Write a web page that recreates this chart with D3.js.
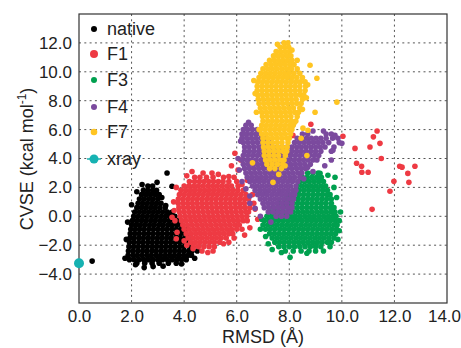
<!DOCTYPE html>
<html>
<head>
<meta charset="utf-8">
<script src="https://cdn.jsdelivr.net/npm/d3@7"></script>
<style>
  body { margin: 0; background: #fff; }
  text { font-family: "Liberation Sans", Arial, sans-serif; }
</style>
</head>
<body>
<svg id="chart"></svg>
<script>
const nativeRows = [
  [2.1, 2.62, 2.8],
  [1.8, 2.45, 2.62, 2.8, 2.95],
  [1.5, 2.38, 2.55, 2.72, 2.9, 3.05],
  [1.2, 2.3, 2.47, 2.65, 2.82, 3.0],
  [0.9, 2.25, 2.42, 2.6, 2.78, 2.95, 3.12],
  [0.6, 2.2, 2.38, 2.55, 2.73, 2.9, 3.08, 3.28],
  [0.3, 2.12, 2.3, 2.48, 2.65, 2.83, 3.0, 3.18, 3.36, 3.55],
  [0.0, 2.08, 2.25, 2.42, 2.6, 2.78, 2.95, 3.13, 3.3, 3.48, 3.65],
  [-0.3, 2.03, 2.2, 2.38, 2.55, 2.73, 2.9, 3.08, 3.25, 3.43, 3.6, 3.78],
  [-0.6, 2.0, 2.16, 2.33, 2.5, 2.68, 2.85, 3.03, 3.2, 3.38, 3.55, 3.73, 3.9],
  [-0.9, 1.97, 2.14, 2.31, 2.48, 2.66, 2.83, 3.0, 3.18, 3.35, 3.53, 3.7, 3.88, 4.02],
  [-1.2, 1.95, 2.12, 2.29, 2.47, 2.64, 2.82, 3.0, 3.17, 3.35, 3.52, 3.7, 3.87, 4.05],
  [-1.5, 1.94, 2.1, 2.28, 2.45, 2.63, 2.8, 2.98, 3.15, 3.33, 3.5, 3.68, 3.85, 4.03, 4.15],
  [-1.8, 1.92, 2.09, 2.27, 2.44, 2.62, 2.79, 2.97, 3.14, 3.32, 3.49, 3.67, 3.84, 4.02, 4.18],
  [-2.1, 1.9, 2.08, 2.25, 2.43, 2.6, 2.78, 2.95, 3.13, 3.3, 3.48, 3.65, 3.83, 4.0, 4.2],
  [-2.4, 1.88, 2.06, 2.24, 2.42, 2.59, 2.77, 2.94, 3.12, 3.29, 3.47, 3.64, 3.82, 3.99, 4.17, 4.3],
  [-2.7, 1.87, 2.05, 2.22, 2.4, 2.58, 2.75, 2.93, 3.1, 3.28, 3.45, 3.63, 3.8, 3.98, 4.15, 4.28],
  [-3.0, 1.92, 2.1, 2.28, 2.46, 2.64, 2.82, 3.0, 3.18, 3.36, 3.54, 3.72, 3.9, 4.08],
  [-3.25, 2.2, 2.5, 2.78, 3.05, 3.4, 3.7]
];
const nativeExtra = [
  [2.48, -3.55], [2.82, -3.48], [3.35, 3.0], [2.97, 2.35], [3.54, 2.08], [0.5, -3.1], [3.3, 0.75],
  [1.75, -2.9], [1.8, -1.6], [1.85, -0.4], [2.0, 0.8], [2.2, 1.7], [2.4, 2.2], [3.15, 1.3],
  [3.4, 0.1], [4.4, -2.9], [4.5, -2.4], [3.9, -3.3], [3.2, -3.45], [2.15, -3.35]
];

const f1Rows = [
  [3.0, 4.72, 5.06],
  [2.7, 4.4, 4.6, 4.85, 5.1, 5.5, 5.9],
  [2.4, 4.2, 4.4, 4.58, 4.76, 4.94, 5.12, 5.3, 5.48, 5.7, 6.0],
  [2.1, 4.0, 4.18, 4.36, 4.54, 4.72, 4.9, 5.08, 5.26, 5.44, 5.62, 5.8, 6.05],
  [1.8, 3.88, 4.06, 4.24, 4.42, 4.6, 4.78, 4.96, 5.14, 5.32, 5.5, 5.68, 5.86, 6.04, 6.25],
  [1.5, 3.82, 4.0, 4.18, 4.36, 4.54, 4.72, 4.9, 5.08, 5.26, 5.44, 5.62, 5.8, 5.98, 6.16, 6.35],
  [1.2, 3.78, 3.96, 4.14, 4.32, 4.5, 4.68, 4.86, 5.04, 5.22, 5.4, 5.58, 5.76, 5.94, 6.12, 6.3, 6.45],
  [0.9, 3.77, 3.95, 4.13, 4.31, 4.49, 4.67, 4.85, 5.03, 5.21, 5.39, 5.57, 5.75, 5.93, 6.11, 6.29, 6.5],
  [0.6, 3.8, 3.98, 4.16, 4.34, 4.52, 4.7, 4.88, 5.06, 5.24, 5.42, 5.6, 5.78, 5.96, 6.14, 6.32, 6.5],
  [0.3, 3.82, 4.0, 4.18, 4.36, 4.54, 4.72, 4.9, 5.08, 5.26, 5.44, 5.62, 5.8, 5.98, 6.16, 6.34, 6.45],
  [0.0, 3.85, 4.03, 4.21, 4.39, 4.57, 4.75, 4.93, 5.11, 5.29, 5.47, 5.65, 5.83, 6.01, 6.19, 6.38],
  [-0.3, 3.9, 4.08, 4.26, 4.44, 4.62, 4.8, 4.98, 5.16, 5.34, 5.52, 5.7, 5.88, 6.06, 6.25],
  [-0.6, 3.95, 4.13, 4.31, 4.49, 4.67, 4.85, 5.03, 5.21, 5.39, 5.57, 5.75, 5.93, 6.1],
  [-0.9, 4.0, 4.18, 4.36, 4.54, 4.72, 4.9, 5.08, 5.26, 5.44, 5.62, 5.8, 6.0],
  [-1.2, 4.08, 4.26, 4.44, 4.62, 4.8, 4.98, 5.16, 5.34, 5.52, 5.7, 5.85],
  [-1.5, 4.15, 4.33, 4.51, 4.69, 4.87, 5.05, 5.23, 5.41, 5.6],
  [-1.8, 4.25, 4.43, 4.61, 4.79, 4.97, 5.15, 5.35],
  [-2.1, 4.35, 4.55, 4.75, 4.95, 5.15],
  [-2.4, 4.68, 5.1]
];
const f1Extra = [
  [3.54, -0.07], [3.65, -0.3], [3.73, -1.1], [3.7, -1.55], [4.34, -2.25], [5.5, -1.9],
  [6.3, -1.3], [6.5, -0.8], [5.93, 4.36], [5.8, 3.5], [6.15, 3.9], [6.05, 3.2], [6.4, 2.5],
  [6.7, 0.5], [6.8, -0.2], [8.82, 6.37], [8.14, 5.6], [10.04, 5.54],
  [3.7, 2.0], [3.6, 1.0], [3.62, 0.4], [4.1, 2.8], [4.3, 3.1], [5.3, 2.9], [5.7, 2.75],
  [6.2, 2.2], [6.6, 1.5], [6.65, 0.9], [6.4, -0.3], [6.2, -0.9], [5.9, -1.5], [5.7, -1.8],
  [4.0, -1.7], [4.1, -2.0], [4.9, -2.5],
  [11.34, 5.9], [11.2, 5.5], [11.45, 5.05], [10.5, 4.7], [11.07, 4.8], [11.5, 4.0],
  [10.56, 3.67], [10.75, 3.46], [11.0, 3.05], [10.76, 3.05], [12.2, 3.46], [12.29, 3.4],
  [12.78, 3.46], [12.51, 2.97], [12.55, 2.35], [11.98, 2.42], [11.83, 1.73], [11.15, 0.48]
];

const f3Rows = [
  [3.0, 8.7, 8.9, 9.1],
  [2.7, 8.5, 8.68, 8.86, 9.04, 9.22],
  [2.4, 8.4, 8.58, 8.76, 8.94, 9.12, 9.3],
  [2.1, 8.3, 8.48, 8.66, 8.84, 9.02, 9.2, 9.38],
  [1.8, 8.2, 8.38, 8.56, 8.74, 8.92, 9.1, 9.28, 9.45],
  [1.5, 8.0, 8.18, 8.36, 8.54, 8.72, 8.9, 9.08, 9.26, 9.44, 9.55],
  [1.2, 7.8, 7.98, 8.16, 8.34, 8.52, 8.7, 8.88, 9.06, 9.24, 9.42, 9.6],
  [0.9, 7.6, 7.78, 7.96, 8.14, 8.32, 8.5, 8.68, 8.86, 9.04, 9.22, 9.4, 9.6],
  [0.6, 7.4, 7.58, 7.76, 7.94, 8.12, 8.3, 8.48, 8.66, 8.84, 9.02, 9.2, 9.38, 9.56, 9.7],
  [0.3, 7.25, 7.43, 7.61, 7.79, 7.97, 8.15, 8.33, 8.51, 8.69, 8.87, 9.05, 9.23, 9.41, 9.59, 9.74],
  [0.0, 7.15, 7.33, 7.51, 7.69, 7.87, 8.05, 8.23, 8.41, 8.59, 8.77, 8.95, 9.13, 9.31, 9.49, 9.67, 9.78],
  [-0.3, 7.05, 7.23, 7.41, 7.59, 7.77, 7.95, 8.13, 8.31, 8.49, 8.67, 8.85, 9.03, 9.21, 9.39, 9.57, 9.75],
  [-0.6, 7.0, 7.18, 7.36, 7.54, 7.72, 7.9, 8.08, 8.26, 8.44, 8.62, 8.8, 8.98, 9.16, 9.34, 9.52, 9.7, 9.82],
  [-0.9, 7.1, 7.28, 7.46, 7.64, 7.82, 8.0, 8.18, 8.36, 8.54, 8.72, 8.9, 9.08, 9.26, 9.44, 9.62, 9.8],
  [-1.2, 7.25, 7.43, 7.61, 7.79, 7.97, 8.15, 8.33, 8.51, 8.69, 8.87, 9.05, 9.23, 9.41, 9.59, 9.76],
  [-1.5, 7.35, 7.53, 7.71, 7.89, 8.07, 8.25, 8.43, 8.61, 8.79, 8.97, 9.15, 9.33, 9.51, 9.7],
  [-1.8, 7.45, 7.63, 7.81, 7.99, 8.17, 8.35, 8.53, 8.71, 8.89, 9.07, 9.25, 9.45, 9.6],
  [-2.1, 7.6, 7.8, 8.0, 8.2, 8.4, 8.6, 8.8, 9.0, 9.2],
  [-2.4, 7.85, 8.15, 8.45, 8.75, 9.0]
];
const f3Extra = [
  [8.03, -2.84], [8.67, -2.56], [7.35, -2.3], [9.85, -1.6], [9.9, -0.3], [9.74, 2.7], [9.47, 2.84], [9.17, 2.98],
  [6.95, -0.2], [6.9, -0.9], [7.1, -1.4], [7.2, -1.9], [9.9, -1.0], [9.95, 0.3], [9.8, 1.3],
  [9.7, 2.0], [9.55, -2.1], [7.7, -2.5], [9.3, -2.4]
];

const f4Rows = [
  [6.3, 6.35, 6.55],
  [6.0, 6.25, 6.42, 6.6, 6.78],
  [5.7, 6.2, 6.38, 6.56, 6.74, 6.9, 8.5, 8.7, 9.4, 9.6],
  [5.4, 6.2, 6.38, 6.56, 6.74, 6.92, 7.1, 8.3, 8.48, 8.66, 8.84, 9.02, 9.2, 9.4, 9.65, 9.85],
  [5.1, 6.25, 6.43, 6.61, 6.79, 6.97, 7.15, 7.33, 8.2, 8.38, 8.56, 8.74, 8.92, 9.1, 9.28, 9.5, 9.9],
  [4.8, 6.3, 6.48, 6.66, 6.84, 7.02, 7.2, 7.38, 7.56, 7.74, 7.92, 8.1, 8.28, 8.46, 8.64, 8.82, 9.0, 9.18, 9.36, 9.7],
  [4.5, 6.3, 6.48, 6.66, 6.84, 7.02, 7.2, 7.38, 7.56, 7.74, 7.92, 8.1, 8.28, 8.46, 8.64, 8.82, 9.0, 9.2, 9.6],
  [4.2, 6.25, 6.43, 6.61, 6.79, 6.97, 7.15, 7.33, 7.51, 7.69, 7.87, 8.05, 8.23, 8.41, 8.59, 8.77, 8.95, 9.12],
  [3.9, 6.2, 6.38, 6.56, 6.74, 6.92, 7.1, 7.28, 7.46, 7.64, 7.82, 8.0, 8.18, 8.36, 8.54, 8.72, 8.9, 9.05],
  [3.6, 6.25, 6.43, 6.61, 6.79, 6.97, 7.15, 7.33, 7.51, 7.69, 7.87, 8.05, 8.23, 8.41, 8.59, 8.8],
  [3.3, 6.3, 6.48, 6.66, 6.84, 7.02, 7.2, 7.38, 7.56, 7.74, 7.92, 8.1, 8.28, 8.46, 8.62],
  [3.0, 6.35, 6.53, 6.71, 6.89, 7.07, 7.25, 7.43, 7.61, 7.79, 7.97, 8.15, 8.33, 8.48],
  [2.7, 6.4, 6.58, 6.76, 6.94, 7.12, 7.3, 7.48, 7.66, 7.84, 8.02, 8.2, 8.4],
  [2.4, 6.5, 6.68, 6.86, 7.04, 7.22, 7.4, 7.58, 7.76, 7.94, 8.12, 8.32],
  [2.1, 6.6, 6.78, 6.96, 7.14, 7.32, 7.5, 7.68, 7.86, 8.04, 8.25],
  [1.8, 6.7, 6.88, 7.06, 7.24, 7.42, 7.6, 7.78, 7.96, 8.14, 8.25],
  [1.5, 6.8, 6.98, 7.16, 7.34, 7.52, 7.7, 7.88, 8.06, 8.2],
  [1.2, 6.9, 7.08, 7.26, 7.44, 7.62, 7.8, 7.98, 8.16],
  [0.9, 7.0, 7.18, 7.36, 7.54, 7.72, 7.9, 8.1],
  [0.6, 7.05, 7.23, 7.41, 7.59, 7.77, 7.95, 8.1],
  [0.3, 7.2, 7.38, 7.56, 7.74, 7.92, 8.05],
  [0.0, 7.5, 7.7, 7.9]
];
const f4Extra = [
  [9.74, 5.6], [10.0, 5.05], [9.66, 4.57], [9.6, 3.9], [9.35, 3.5], [8.9, 3.1], [6.9, 0.0], [7.3, -0.4],
  [6.5, 0.9], [6.7, 0.55], [6.3, 5.7], [6.05, 4.0], [6.1, 3.2], [6.2, 2.4], [6.35, 1.9], [6.5, 1.4],
  [8.55, 2.6], [8.7, 3.4], [9.3, 5.9], [8.9, 5.9], [6.15, 5.2], [6.45, 6.5]
];

const f7Rows = [
  [12.0, 7.8, 7.95],
  [11.7, 7.65, 7.82, 7.98],
  [11.4, 7.5, 7.67, 7.84, 8.0],
  [11.1, 7.4, 7.57, 7.74, 7.91, 8.06],
  [10.8, 7.25, 7.42, 7.59, 7.76, 7.93, 8.1],
  [10.5, 7.12, 7.3, 7.48, 7.66, 7.84, 8.02, 8.18],
  [10.2, 7.0, 7.18, 7.36, 7.54, 7.72, 7.9, 8.08, 8.3],
  [9.9, 6.92, 7.1, 7.28, 7.46, 7.64, 7.82, 8.0, 8.18, 8.4],
  [9.6, 6.85, 7.03, 7.21, 7.39, 7.57, 7.75, 7.93, 8.11, 8.29, 8.5],
  [9.3, 6.8, 6.98, 7.16, 7.34, 7.52, 7.7, 7.88, 8.06, 8.24, 8.42, 8.6],
  [9.0, 6.78, 6.96, 7.14, 7.32, 7.5, 7.68, 7.86, 8.04, 8.22, 8.4, 8.62],
  [8.7, 6.78, 6.96, 7.14, 7.32, 7.5, 7.68, 7.86, 8.04, 8.22, 8.4, 8.6],
  [8.4, 6.8, 6.98, 7.16, 7.34, 7.52, 7.7, 7.88, 8.06, 8.24, 8.42, 8.55],
  [8.1, 6.82, 7.0, 7.18, 7.36, 7.54, 7.72, 7.9, 8.08, 8.26, 8.5],
  [7.8, 6.85, 7.03, 7.21, 7.39, 7.57, 7.75, 7.93, 8.11, 8.29, 8.45],
  [7.5, 6.9, 7.08, 7.26, 7.44, 7.62, 7.8, 7.98, 8.16, 8.4],
  [7.2, 6.95, 7.13, 7.31, 7.49, 7.67, 7.85, 8.03, 8.21, 8.35],
  [6.9, 6.98, 7.16, 7.34, 7.52, 7.7, 7.88, 8.06, 8.3],
  [6.6, 7.0, 7.18, 7.36, 7.54, 7.72, 7.9, 8.08, 8.25],
  [6.3, 6.95, 7.13, 7.31, 7.49, 7.67, 7.85, 8.03, 8.15],
  [6.0, 6.9, 7.08, 7.26, 7.44, 7.62, 7.8, 7.98, 8.1],
  [5.7, 6.95, 7.13, 7.31, 7.49, 7.67, 7.85, 8.05],
  [5.4, 7.0, 7.18, 7.36, 7.54, 7.72, 7.9, 8.0],
  [5.1, 7.0, 7.18, 7.36, 7.54, 7.72, 7.95],
  [4.8, 7.02, 7.2, 7.38, 7.56, 7.74, 7.92],
  [4.5, 7.05, 7.23, 7.41, 7.59, 7.77, 7.9],
  [4.2, 7.05, 7.23, 7.41, 7.59, 7.85],
  [3.9, 7.1, 7.28, 7.46, 7.64, 7.8],
  [3.6, 7.15, 7.35, 7.55, 7.75],
  [3.3, 7.25, 7.45, 7.7]
];
const f7Extra = [
  [7.38, 2.35], [6.6, 3.7], [7.84, 3.5], [8.67, 4.2], [8.52, 6.1], [8.71, 5.95], [8.98, 7.2], [9.81, 7.9],
  [9.05, 9.55], [8.79, 10.45], [8.45, 5.4], [7.6, 2.9], [6.65, 9.4], [6.7, 8.5], [6.75, 7.2], [8.7, 9.1],
  [8.65, 8.2], [8.5, 7.4], [8.3, 10.8], [7.55, 11.9], [8.1, 11.5], [6.85, 6.0], [8.2, 6.5]
];

const xrayPoint = [[0.0, -3.25]];

const seriesNames  = ["native", "F1", "F3", "F4", "F7", "xray"];
const seriesColors = ["#000000", "#ee3a43", "#00a04f", "#7b4a9e", "#ffc522", "#16b2b2"];
const xTicks = [0, 2, 4, 6, 8, 10, 12, 14];
const yTicks = [-4, -2, 0, 2, 4, 6, 8, 10, 12];

const margin = {top: 14, right: 14, bottom: 45, left: 79};
const width  = 461 - (margin.left + margin.right);
const height = 348 - (margin.top + margin.bottom);

const toPoints = rows => rows.flatMap(([yv, ...xs]) => xs.map(xv => [xv, yv]));

const series = [
  {name: "native", pts: toPoints(nativeRows).concat(nativeExtra)},
  {name: "F1",     pts: toPoints(f1Rows).concat(f1Extra)},
  {name: "F3",     pts: toPoints(f3Rows).concat(f3Extra)},
  {name: "F4",     pts: toPoints(f4Rows).concat(f4Extra)},
  {name: "F7",     pts: toPoints(f7Rows).concat(f7Extra)}
];

const color = d3.scaleOrdinal().domain(seriesNames).range(seriesColors);

const svg = d3.select("#chart")
  .attr("width", width + margin.left + margin.right)
  .attr("height", height + margin.top + margin.bottom)
  .append("g")
    .attr("transform", "translate(" + margin.left + "," + margin.top + ")");

const x = d3.scaleLinear().domain([0, 14]).range([0, width]);
const y = d3.scaleLinear().domain([-6, 14]).range([height, 0]);

// dotted grid
svg.append("g").selectAll("line")
  .data(xTicks.filter(d => d > 0 && d < 14))
  .join("line")
    .attr("x1", d => x(d)).attr("x2", d => x(d))
    .attr("y1", 0).attr("y2", height)
    .attr("stroke", "#555").attr("stroke-width", 1)
    .attr("stroke-dasharray", "2,3.3");

svg.append("g").selectAll("line")
  .data(yTicks)
  .join("line")
    .attr("x1", 0).attr("x2", width)
    .attr("y1", d => y(d)).attr("y2", d => y(d))
    .attr("stroke", "#555").attr("stroke-width", 1)
    .attr("stroke-dasharray", "2,3.3");

// scatter clouds
const plot = svg.append("g");
series.forEach(s => {
  plot.append("g")
    .attr("fill", color(s.name))
    .selectAll("circle")
    .data(s.pts)
    .join("circle")
      .attr("cx", d => x(d[0]))
      .attr("cy", d => y(d[1]))
      .attr("r", 2.8);
});

// frame
svg.append("rect")
  .attr("width", width).attr("height", height)
  .attr("fill", "none").attr("stroke", "#333").attr("stroke-width", 1.2);

svg.append("g").selectAll("circle")
  .data(xrayPoint)
  .join("circle")
    .attr("cx", d => x(d[0]))
    .attr("cy", d => y(d[1]))
    .attr("r", 5)
    .attr("fill", color("xray"));

// axes
const xAxis = d3.axisBottom(x).tickValues(xTicks).tickSize(0).tickPadding(7).tickFormat(d3.format(".1f"));
const yAxis = d3.axisLeft(y).tickValues(yTicks).tickSize(0).tickPadding(7).tickFormat(d3.format(".1f"));

const gx = svg.append("g").attr("transform", "translate(0," + height + ")").call(xAxis);
const gy = svg.append("g").call(yAxis);
[gx, gy].forEach(g => {
  g.select(".domain").remove();
  g.selectAll("text").attr("fill", "#222").style("font-size", "17px")
    .style("font-family", "'Liberation Sans', Arial, sans-serif");
});
// last x label sits against the right edge
gx.selectAll("text").filter(d => d === 14).attr("dx", "-3");

svg.append("text")
  .attr("x", width / 2)
  .attr("y", height + 40)
  .attr("text-anchor", "middle")
  .attr("fill", "#222")
  .style("font-size", "18px")
  .text("RMSD (Å)");

const yTitle = svg.append("text")
  .attr("transform", "translate(" + (33 - margin.left) + "," + (159 - margin.top) + ") rotate(-90)")
  .attr("text-anchor", "middle")
  .attr("fill", "#222")
  .style("font-size", "18px");
yTitle.append("tspan").text("CVSE (kcal mol");
yTitle.append("tspan").attr("dy", "-7").style("font-size", "12px").text("-1");
yTitle.append("tspan").attr("dy", "7").text(")");

// legend
const legendY = [29, 54, 80, 107, 132, 159];
const legendR = [3, 4, 3, 3, 3.3, 4.5];
const legend = svg.append("g");
seriesNames.forEach((name, i) => {
  const row = legend.append("g")
    .attr("transform", "translate(" + (94 - margin.left) + "," + (legendY[i] - margin.top) + ")");
  if (name === "xray") {
    row.append("line").attr("x1", -7).attr("x2", 7)
      .attr("stroke", color(name)).attr("stroke-width", 1.5);
  }
  row.append("circle").attr("r", legendR[i]).attr("fill", color(name));
  row.append("text")
    .attr("x", 13)
    .attr("dy", "0.35em")
    .attr("fill", "#222")
    .style("font-size", "18px")
    .text(name);
});
</script>
</body>
</html>
